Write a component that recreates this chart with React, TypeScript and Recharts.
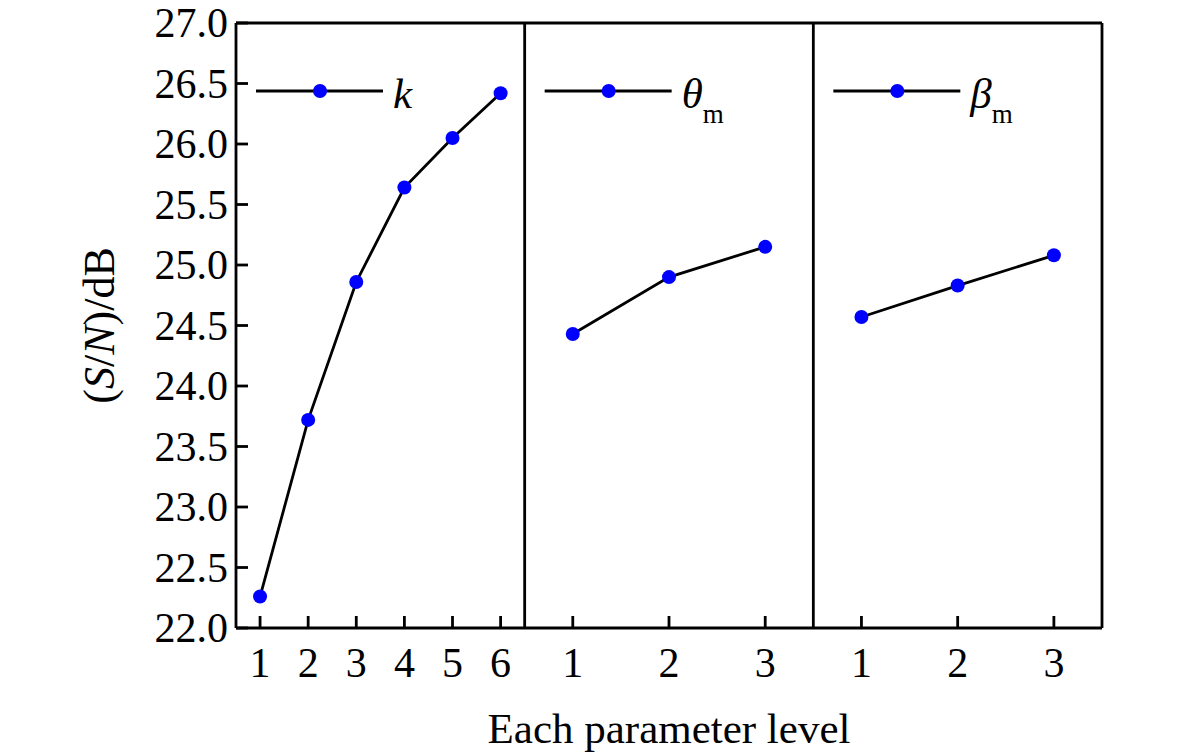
import React from "react";
import {
  LineChart, Line, XAxis, YAxis, ReferenceLine, Legend, Label,
} from "recharts";

// levels and S/N ratios
const kLevels = [1, 2, 3, 4, 5, 6];
const kSN = [22.26, 23.72, 24.86, 25.64, 26.05, 26.42];
const thetaLevels = [1, 2, 3];
const thetaSN = [24.43, 24.9, 25.15];
const betaLevels = [1, 2, 3];
const betaSN = [24.57, 24.83, 25.08];
const yTicks = [22, 22.5, 23, 23.5, 24, 24.5, 25, 25.5, 26, 26.5, 27];

const FONT = "'Liberation Serif', 'Times New Roman', serif";
const BLUE = "#0000ff";
const SW = 2.8;
const PANEL = 6; // each panel spans 6 x-units
const W = 1181;
const H = 755;
const M = { top: 23, right: 79, left: 0, bottom: 0 };
const Y_W = 236;
const X_H = 127;

// place a level inside its panel on one shared numeric axis
const pos = (panel: number, level: number, count: number) =>
  panel * PANEL + 0.5 + (level - 0.5) * (PANEL / count);

const panels = [
  { levels: kLevels, values: kSN },
  { levels: thetaLevels, values: thetaSN },
  { levels: betaLevels, values: betaSN },
];

const series = panels.map((p, pi) =>
  p.levels.map((l, i) => ({ x: pos(pi, l, p.levels.length), y: p.values[i] }))
);

const xTicks: number[] = [];
const xTickLabel: Record<string, string> = {};
panels.forEach((p, pi) =>
  p.levels.forEach((l) => {
    const v = pos(pi, l, p.levels.length);
    xTicks.push(v);
    xTickLabel[String(v)] = String(l);
  })
);

const XTick = (props: any) => {
  const { x, y, payload } = props;
  return (
    <g>
      <line x1={x} x2={x} y1={y} y2={y - 12} stroke="#000" strokeWidth={SW} />
      <text x={x} y={y + 49} textAnchor="middle" fontFamily={FONT} fontSize={42} fill="#000">
        {xTickLabel[String(payload.value)]}
      </text>
    </g>
  );
};

const YTick = (props: any) => {
  const { x, y, payload } = props;
  return (
    <g>
      <line x1={x} x2={x + 12} y1={y} y2={y} stroke="#000" strokeWidth={SW} />
      <text x={x - 8} y={y + 14} textAnchor="end" fontFamily={FONT} fontSize={42} fill="#000">
        {Number(payload.value).toFixed(1)}
      </text>
    </g>
  );
};

const LegendItem = ({ x0, children }: { x0: number; children: React.ReactNode }) => (
  <g>
    <line x1={x0} x2={x0 + 127} y1={91} y2={91} stroke="#000" strokeWidth={SW} />
    <circle cx={x0 + 64} cy={91} r={7} fill={BLUE} />
    <text x={x0 + 137} y={108} fontFamily={FONT} fontSize={43} fill="#000">
      {children}
    </text>
  </g>
);

const LegendContent = () => {
  const plotW = W - Y_W - M.right;
  const step = plotW / 3;
  return (
    <svg width={W} height={140} style={{ display: "block" }}>
      <LegendItem x0={Y_W + 20}>
        <tspan fontStyle="italic">k</tspan>
      </LegendItem>
      <LegendItem x0={Y_W + step + 20}>
        <tspan fontStyle="italic">θ</tspan>
        <tspan fontSize={27} dy={15}>m</tspan>
      </LegendItem>
      <LegendItem x0={Y_W + 2 * step + 20}>
        <tspan fontStyle="italic">β</tspan>
        <tspan fontSize={27} dy={15}>m</tspan>
      </LegendItem>
    </svg>
  );
};

export default function App() {
  return (
    <div style={{ position: "absolute", left: 0, top: 0, width: W, height: H, background: "#fff" }}>
      <LineChart width={W} height={H} margin={M}>
        <XAxis
          dataKey="x"
          type="number"
          domain={[0.5, 18.5]}
          ticks={xTicks}
          interval={0}
          height={X_H}
          tickSize={0}
          tickMargin={0}
          tickLine={false}
          axisLine={{ stroke: "#000", strokeWidth: SW }}
          tick={XTick}
        >
          <Label
            content={({ viewBox }: any) => (
              <text
                x={viewBox.x + viewBox.width / 2}
                y={viewBox.y + 115}
                textAnchor="middle"
                fontFamily={FONT}
                fontSize={43}
                fill="#000"
              >
                Each parameter level
              </text>
            )}
          />
        </XAxis>
        <YAxis
          type="number"
          domain={[22, 27]}
          ticks={yTicks}
          interval={0}
          width={Y_W}
          tickSize={0}
          tickMargin={0}
          tickLine={false}
          axisLine={{ stroke: "#000", strokeWidth: SW }}
          tick={YTick}
        >
          <Label
            content={({ viewBox }: any) => {
              const cx = 114;
              const cy = viewBox.y + viewBox.height / 2;
              return (
                <text
                  x={cx}
                  y={cy}
                  transform={`rotate(-90, ${cx}, ${cy})`}
                  textAnchor="middle"
                  fontFamily={FONT}
                  fontSize={44}
                  fill="#000"
                >
                  (<tspan fontStyle="italic">S</tspan>/<tspan fontStyle="italic">N</tspan>)/dB
                </text>
              );
            }}
          />
        </YAxis>
        <ReferenceLine y={27} stroke="#000" strokeWidth={SW} />
        <ReferenceLine x={18.5} stroke="#000" strokeWidth={SW} />
        <ReferenceLine x={6.5} stroke="#000" strokeWidth={SW} />
        <ReferenceLine x={12.5} stroke="#000" strokeWidth={SW} />
        <Legend
          verticalAlign="middle"
          align="center"
          content={LegendContent}
          wrapperStyle={{ top: 0, left: 0, width: W, height: 140 }}
        />
        {series.map((d, i) => (
          <Line
            key={i}
            data={d}
            dataKey="y"
            stroke="#000"
            strokeWidth={SW}
            dot={{ r: 7, fill: BLUE, stroke: "none" }}
            activeDot={false}
            legendType="none"
            isAnimationActive={false}
          />
        ))}
      </LineChart>
    </div>
  );
}
